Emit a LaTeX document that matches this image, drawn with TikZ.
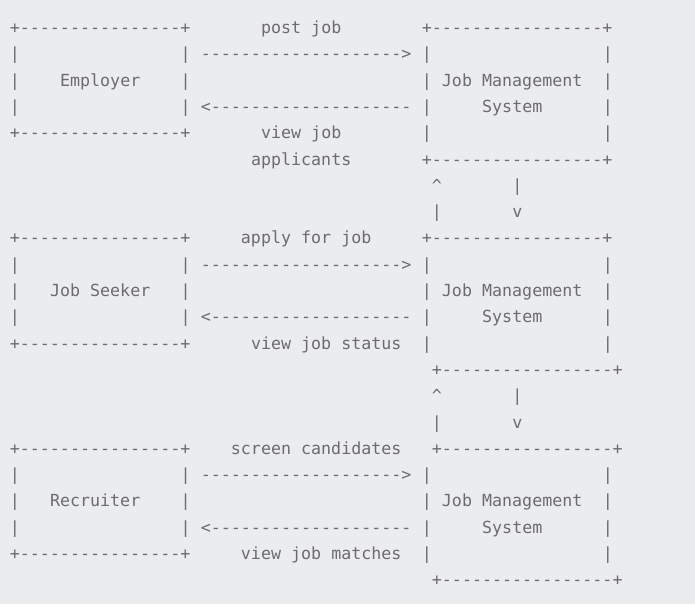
\documentclass[tikz,border=0pt]{standalone}
\usepackage{fontspec}
\setmonofont{DejaVu Sans Mono}
\usepackage{xcolor}
\definecolor{cPage}{RGB}{235,236,238}
\definecolor{cInk}{RGB}{108,108,110}
\tikzset{
  ascii/.style={anchor=base west,inner sep=0pt,outer sep=0pt,text=cInk,
    font=\ttfamily\fontsize{12.5}{15}\selectfont},
}
% one chunk of the text picture: name, column, row, text
\newcommand\asciiat[4]{%
  \node[ascii] (#1) at ({9.8+10.05*(#2)},{33.5+26.3*((#3)-1)}) {#4};}

\begin{document}
\begin{tikzpicture}[x=0.75pt,y=-0.75pt]
  \fill[cPage] (0,0) rectangle (695,604);
  \foreach \g/\r/\who/\wc/\upl/\uc/\dnl/\dc/\tc/\bc in {
    1/1/Employer/5/post job/25/view job/25/41/41,
    2/9/Job Seeker/4/apply for job/23/view job status/24/41/42,
    3/17/Recruiter/4/screen candidates/22/view job matches/23/42/42} {
    % left box
    \asciiat{lt\g}{0}{\r}{+----------------+}
    \asciiat{lb\g}{0}{\r+4}{+----------------+}
    \foreach \i in {1,2,3} {
      \asciiat{ll\g\i}{0}{\r+\i}{|}
      \asciiat{lr\g\i}{17}{\r+\i}{|}
    }
    \asciiat{who\g}{\wc}{\r+2}{\who}
    % arrows and their labels
    \asciiat{go\g}{19}{\r+1}{-------------------->}
    \asciiat{back\g}{19}{\r+3}{<--------------------}
    \asciiat{upl\g}{\uc}{\r}{\upl}
    \asciiat{dnl\g}{\dc}{\r+4}{\dnl}
    % right box
    \asciiat{rt\g}{\tc}{\r}{+-----------------+}
    \asciiat{rb\g}{\bc}{\r+5}{+-----------------+}
    \foreach \i in {1,...,4} {
      \asciiat{rl\g\i}{41}{\r+\i}{|}
      \asciiat{rr\g\i}{59}{\r+\i}{|}
    }
    \asciiat{jms\g}{43}{\r+2}{Job Management}
    \asciiat{sys\g}{47}{\r+3}{System}
  }
  \asciiat{apps}{24}{6}{applicants}
  % links between the systems
  \foreach \k/\r in {a/7,b/15} {
    \asciiat{hat\k}{42}{\r}{\textasciicircum}
    \asciiat{dbar\k}{50}{\r}{|}
    \asciiat{ubar\k}{42}{\r+1}{|}
    \asciiat{vee\k}{50}{\r+1}{v}
  }
\end{tikzpicture}
\end{document}
